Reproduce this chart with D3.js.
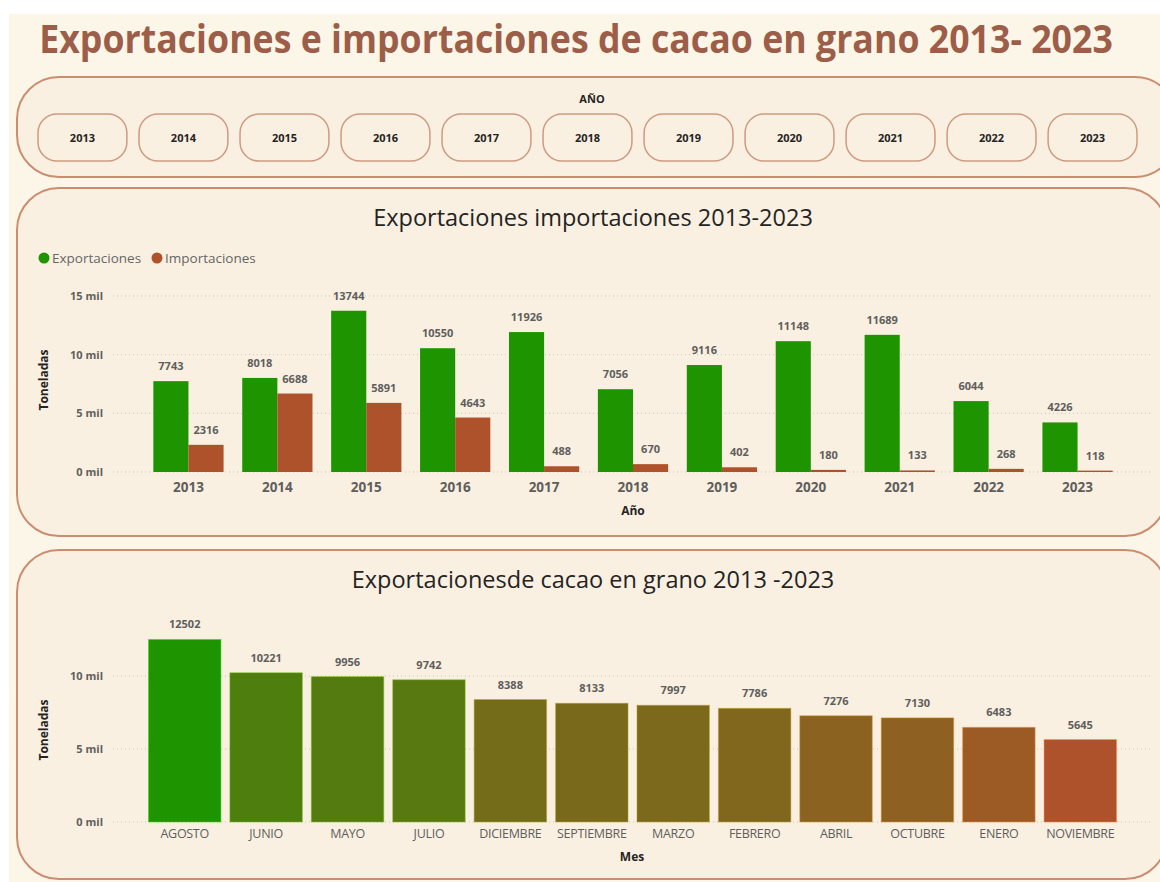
<!DOCTYPE html>
<html lang="es">
<head>
    <meta charset="utf-8" />
    <title>Cacao en grano 2013-2023</title>
    <script src="https://cdnjs.cloudflare.com/ajax/libs/d3/7.8.5/d3.min.js"></script>
    <style>
        body { margin: 0; background: #ffffff; }
        svg { display: block; font-family: "Open Sans", "Noto Sans", sans-serif; }
        .tick-label { font-size: 11px; font-weight: 700; fill: #605e5c; }
        .data-label { font-size: 11px; font-weight: 700; fill: #605e5c; }
        .axis-title { font-size: 12px; font-weight: 700; fill: #252423; }
        .chart-title { font-size: 23.5px; fill: #252423; }
        .panel { fill: #f9f0e2; stroke: #cb8d6f; stroke-width: 2; }
    </style>
</head>
<body>
<div id="chart"></div>
<script>
    // ---- data ----
    const years = ["2013", "2014", "2015", "2016", "2017", "2018", "2019", "2020", "2021", "2022", "2023"];
    const exportaciones = [7743, 8018, 13744, 10550, 11926, 7056, 9116, 11148, 11689, 6044, 4226];
    const importaciones = [2316, 6688, 5891, 4643, 488, 670, 402, 180, 133, 268, 118];

    const meses = ["AGOSTO", "JUNIO", "MAYO", "JULIO", "DICIEMBRE", "SEPTIEMBRE", "MARZO", "FEBRERO", "ABRIL", "OCTUBRE", "ENERO", "NOVIEMBRE"];
    const exportMes = [12502, 10221, 9956, 9742, 8388, 8133, 7997, 7786, 7276, 7130, 6483, 5645];

    const series = ["Exportaciones", "Importaciones"];
    const ticks1 = [0, 5000, 10000, 15000];
    const ticks2 = [0, 5000, 10000];

    const green = "#1e9400";
    const brown = "#ad522a";

    const width = 1160;
    const height = 882;

    const svg = d3.select("#chart")
        .append("svg")
        .attr("width", width)
        .attr("height", height);

    // page background
    svg.append("rect").attr("x", 9).attr("y", 14).attr("width", width - 9).attr("height", height - 14)
        .attr("fill", "#fcf6e9");

    // main title: condensed look -> fit width, then stretch vertically
    const title = svg.append("text")
        .attr("text-anchor", "middle")
        .style("font-family", "'Open Sans', sans-serif")
        .style("font-size", "40px")
        .style("font-weight", 700)
        .style("fill", "#9c5e48")
        .text("Exportaciones e importaciones de cacao en grano 2013- 2023");
    const titleW = title.node().getComputedTextLength();
    const k = Math.min(1, 1074 / titleW);
    title.style("font-size", (40 * k) + "px")
        .attr("transform", `translate(576,53) scale(1,${1 / k})`);

    // ---- year slicer ----
    svg.append("rect").attr("class", "panel")
        .attr("x", 17).attr("y", 77).attr("width", 1160).attr("height", 100)
        .attr("rx", 42).attr("ry", 42);

    svg.append("text")
        .attr("x", 592).attr("y", 103)
        .attr("text-anchor", "middle")
        .style("font-size", "11px").style("font-weight", 700).style("fill", "#252423")
        .text("AÑO");

    const xSlicer = d3.scaleBand()
        .domain(years)
        .range([38, 1137])
        .paddingInner(0.12);

    const btn = svg.append("g").selectAll("g")
        .data(years)
        .enter().append("g");

    btn.append("rect")
        .attr("x", d => xSlicer(d))
        .attr("y", 114)
        .attr("width", xSlicer.bandwidth())
        .attr("height", 47)
        .attr("rx", 19).attr("ry", 19)
        .attr("fill", "#f9f0e2")
        .attr("stroke", "#cf9a80")
        .attr("stroke-width", 1.5);

    btn.append("text")
        .attr("x", d => xSlicer(d) + xSlicer.bandwidth() / 2)
        .attr("y", 142)
        .attr("text-anchor", "middle")
        .style("font-size", "11px").style("font-weight", 700).style("fill", "#252423")
        .text(d => d);

    // ---- chart 1: grouped bars ----
    svg.append("rect").attr("class", "panel")
        .attr("x", 17).attr("y", 188).attr("width", 1150).attr("height", 348)
        .attr("rx", 42).attr("ry", 42);

    svg.append("text").attr("class", "chart-title")
        .attr("x", 593).attr("y", 226)
        .attr("text-anchor", "middle")
        .text("Exportaciones importaciones 2013-2023");

    // legend
    const legend = svg.append("g").attr("transform", "translate(44,258)");
    const legendX = [0, 113];
    series.forEach((s, i) => {
        legend.append("circle").attr("cx", legendX[i]).attr("cy", 0).attr("r", 5.5)
            .attr("fill", i === 0 ? green : brown);
        legend.append("text").attr("x", legendX[i] + 8).attr("y", 4.5)
            .style("font-size", "13.5px").style("fill", "#666666")
            .text(s);
    });

    const x1 = d3.scaleBand()
        .domain(years)
        .range([144, 1122])
        .paddingInner(0.21)
        .paddingOuter(0.105);

    const xs1 = d3.scaleBand()
        .domain(series)
        .range([0, x1.bandwidth()]);

    const y1 = d3.scaleLinear()
        .domain([0, 15000])
        .range([472, 296]);

    const fmtMil = d => (d / 1000) + " mil";

    const g1 = svg.append("g");

    // gridlines
    g1.selectAll(".grid")
        .data(ticks1)
        .enter().append("line")
        .attr("x1", 113).attr("x2", 1150)
        .attr("y1", d => y1(d)).attr("y2", d => y1(d))
        .attr("stroke", "#c8c3bc")
        .attr("stroke-width", 1)
        .attr("stroke-dasharray", "1,3");

    g1.selectAll(".ylab")
        .data(ticks1)
        .enter().append("text")
        .attr("class", "tick-label")
        .attr("x", 103).attr("y", d => y1(d) + 4)
        .attr("text-anchor", "end")
        .text(fmtMil);

    const rows = years.map((yr, i) => ({
        year: yr,
        values: [
            { key: series[0], value: exportaciones[i] },
            { key: series[1], value: importaciones[i] }
        ]
    }));

    const grp = g1.selectAll(".grp")
        .data(rows)
        .enter().append("g")
        .attr("transform", d => `translate(${x1(d.year)},0)`);

    grp.selectAll("rect")
        .data(d => d.values)
        .enter().append("rect")
        .attr("x", d => xs1(d.key))
        .attr("y", d => y1(d.value))
        .attr("width", xs1.bandwidth())
        .attr("height", d => y1(0) - y1(d.value))
        .attr("fill", d => d.key === series[0] ? green : brown);

    grp.selectAll(".data-label")
        .data(d => d.values)
        .enter().append("text")
        .attr("class", "data-label")
        .attr("x", d => xs1(d.key) + xs1.bandwidth() / 2)
        .attr("y", d => y1(d.value) - 11)
        .attr("text-anchor", "middle")
        .text(d => d.value);

    g1.selectAll(".xlab")
        .data(years)
        .enter().append("text")
        .attr("class", "tick-label")
        .style("font-size", "13.5px")
        .attr("x", d => x1(d) + x1.bandwidth() / 2)
        .attr("y", 492)
        .attr("text-anchor", "middle")
        .text(d => d);

    svg.append("text").attr("class", "axis-title")
        .attr("x", 633).attr("y", 515)
        .attr("text-anchor", "middle")
        .text("Año");

    svg.append("text").attr("class", "axis-title")
        .attr("transform", "translate(48,380) rotate(-90)")
        .attr("text-anchor", "middle")
        .text("Toneladas");

    // ---- chart 2: monthly exports ----
    svg.append("rect").attr("class", "panel")
        .attr("x", 17).attr("y", 550).attr("width", 1150).attr("height", 329)
        .attr("rx", 42).attr("ry", 42);

    svg.append("text").attr("class", "chart-title")
        .attr("x", 593).attr("y", 588)
        .attr("text-anchor", "middle")
        .text("Exportacionesde cacao en grano 2013 -2023");

    const x2 = d3.scaleBand()
        .domain(meses)
        .range([144, 1121])
        .paddingInner(0.11)
        .paddingOuter(0.055);

    const y2 = d3.scaleLinear()
        .domain([0, 10000])
        .range([822, 676]);

    // conditional colour: lowest value brown, highest green
    const color2 = d3.scaleLinear()
        .domain([d3.min(exportMes), d3.max(exportMes)])
        .range([brown, green])
        .interpolate(d3.interpolateRgb);

    const g2 = svg.append("g");

    g2.selectAll(".grid")
        .data(ticks2)
        .enter().append("line")
        .attr("x1", 113).attr("x2", 1150)
        .attr("y1", d => y2(d)).attr("y2", d => y2(d))
        .attr("stroke", "#c8c3bc")
        .attr("stroke-width", 1)
        .attr("stroke-dasharray", "1,3");

    g2.selectAll(".ylab")
        .data(ticks2)
        .enter().append("text")
        .attr("class", "tick-label")
        .attr("x", 103).attr("y", d => y2(d) + 4)
        .attr("text-anchor", "end")
        .text(fmtMil);

    const monthRows = meses.map((m, i) => ({ mes: m, value: exportMes[i] }));

    g2.selectAll(".bar")
        .data(monthRows)
        .enter().append("rect")
        .attr("x", d => x2(d.mes))
        .attr("y", d => y2(d.value))
        .attr("width", x2.bandwidth())
        .attr("height", d => y2(0) - y2(d.value))
        .attr("fill", d => color2(d.value))
        .attr("stroke", d => d3.color(color2(d.value)).brighter(1.2))
        .attr("stroke-opacity", 0.5)
        .attr("stroke-width", 1);

    g2.selectAll(".data-label")
        .data(monthRows)
        .enter().append("text")
        .attr("class", "data-label")
        .attr("x", d => x2(d.mes) + x2.bandwidth() / 2)
        .attr("y", d => y2(d.value) - 11)
        .attr("text-anchor", "middle")
        .text(d => d.value);

    g2.selectAll(".xlab")
        .data(meses)
        .enter().append("text")
        .style("font-size", "12.5px")
        .style("fill", "#605e5c")
        .style("letter-spacing", "-0.3px")
        .attr("x", d => x2(d) + x2.bandwidth() / 2)
        .attr("y", 838)
        .attr("text-anchor", "middle")
        .text(d => d);

    svg.append("text").attr("class", "axis-title")
        .attr("x", 632).attr("y", 861)
        .attr("text-anchor", "middle")
        .text("Mes");

    svg.append("text").attr("class", "axis-title")
        .attr("transform", "translate(48,730) rotate(-90)")
        .attr("text-anchor", "middle")
        .text("Toneladas");
</script>
</body>
</html>
